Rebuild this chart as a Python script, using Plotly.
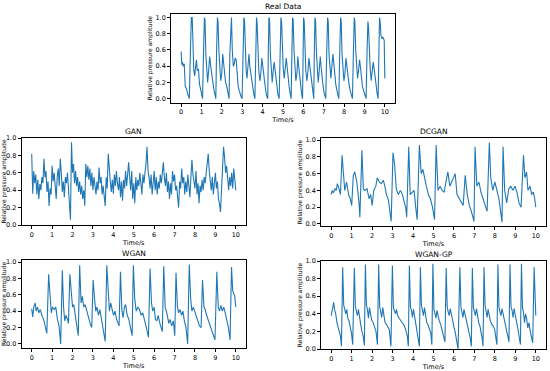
import plotly.graph_objects as go

# ---------------- data ----------------
real_t = [0.00, 0.03, 0.06, 0.10, 0.15, 0.20, 0.27, 0.33, 0.40, 0.45,
          0.50, 0.54, 0.58, 0.62, 0.66, 0.70, 0.75, 0.79, 0.85, 0.90, 0.95, 1.00, 1.05,
          1.10, 1.14, 1.17, 1.21, 1.25, 1.30, 1.35, 1.40, 1.45, 1.50, 1.55, 1.60, 1.66, 1.70,
          1.74, 1.78, 1.81, 1.85, 1.89, 1.94, 1.99, 2.04, 2.08, 2.13, 2.18, 2.24, 2.30, 2.35,
          2.39, 2.44, 2.47, 2.51, 2.56, 2.60, 2.65, 2.70, 2.75, 2.80, 2.85, 2.90, 2.95, 2.99,
          3.04, 3.08, 3.11, 3.15, 3.19, 3.23, 3.28, 3.33, 3.37, 3.42, 3.47, 3.52, 3.57, 3.62,
          3.66, 3.70, 3.73, 3.77, 3.81, 3.86, 3.91, 3.96, 4.00, 4.05, 4.10, 4.15, 4.20, 4.25,
          4.28, 4.31, 4.34, 4.38, 4.42, 4.47, 4.52, 4.57, 4.60, 4.65, 4.70, 4.75, 4.81,
          4.86, 4.90, 4.93, 4.97, 5.01, 5.06, 5.11, 5.16, 5.20, 5.25, 5.30, 5.36, 5.40,
          5.44, 5.47, 5.50, 5.54, 5.58, 5.63, 5.68, 5.73, 5.77, 5.82, 5.87, 5.92, 5.96,
          5.98, 6.01, 6.04, 6.08, 6.12, 6.17, 6.22, 6.27, 6.31, 6.36, 6.41, 6.46, 6.51,
          6.54, 6.57, 6.60, 6.64, 6.68, 6.73, 6.78, 6.83, 6.87, 6.92, 6.97, 7.03, 7.10,
          7.15, 7.19, 7.22, 7.26, 7.30, 7.35, 7.40, 7.45, 7.49, 7.54, 7.59, 7.65, 7.70, 7.74,
          7.79, 7.83, 7.86, 7.90, 7.94, 7.99, 8.04, 8.09, 8.13, 8.18, 8.24, 8.30, 8.36, 8.41,
          8.46, 8.50, 8.53, 8.57, 8.61, 8.66, 8.71, 8.76, 8.80, 8.85, 8.90, 8.96, 9.02, 9.08,
          9.13, 9.17, 9.20, 9.24, 9.28, 9.33, 9.38, 9.43, 9.47, 9.52, 9.57, 9.63, 9.67,
          9.70, 9.74, 9.77, 9.81, 9.86, 9.90, 9.94, 9.97, 10.0]
real_y = [0.58, 0.42, 0.45, 0.40, 0.43, 0.15, 0.12, 0.05, 0.00, 0.55,
          1.00, 1.00, 0.60, 0.35, 0.28, 0.40, 0.48, 0.35, 0.36, 0.18, 0.12, 0.05, 0.00,
          0.60, 1.00, 0.97, 0.55, 0.35, 0.20, 0.35, 0.52, 0.40, 0.30, 0.18, 0.12, 0.05, 0.00,
          0.60, 1.00, 0.95, 0.60, 0.38, 0.22, 0.30, 0.55, 0.45, 0.32, 0.20, 0.15, 0.08, 0.00,
          0.55, 0.95, 1.00, 0.60, 0.40, 0.42, 0.50, 0.48, 0.30, 0.15, 0.10, 0.05, 0.02, 0.00,
          0.60, 1.00, 0.96, 0.55, 0.35, 0.25, 0.38, 0.55, 0.40, 0.30, 0.20, 0.10, 0.05, 0.00,
          0.60, 1.00, 0.93, 0.58, 0.35, 0.22, 0.30, 0.50, 0.40, 0.28, 0.15, 0.10, 0.03, 0.00,
          0.60, 1.00, 0.98, 0.55, 0.30, 0.20, 0.35, 0.45, 0.38, 0.25, 0.12, 0.05, 0.00,
          0.60, 1.00, 0.95, 0.60, 0.38, 0.25, 0.35, 0.50, 0.40, 0.25, 0.15, 0.05, 0.00,
          0.60, 1.00, 0.97, 0.60, 0.35, 0.22, 0.30, 0.52, 0.40, 0.25, 0.15, 0.05, 0.00,
          0.60, 1.00, 0.96, 0.55, 0.35, 0.22, 0.32, 0.50, 0.42, 0.28, 0.15, 0.08, 0.00,
          0.60, 1.00, 0.96, 0.58, 0.32, 0.20, 0.35, 0.52, 0.40, 0.25, 0.15, 0.06, 0.00,
          0.60, 1.00, 0.95, 0.55, 0.35, 0.25, 0.40, 0.55, 0.45, 0.30, 0.18, 0.10, 0.03, 0.00,
          0.60, 1.00, 0.95, 0.55, 0.35, 0.22, 0.30, 0.50, 0.42, 0.28, 0.18, 0.10, 0.05, 0.00,
          0.60, 1.00, 0.95, 0.60, 0.38, 0.25, 0.35, 0.48, 0.40, 0.25, 0.15, 0.10, 0.05, 0.00,
          0.60, 0.95, 0.88, 0.55, 0.38, 0.22, 0.35, 0.45, 0.38, 0.25, 0.15, 0.05, 0.00,
          0.60, 1.00, 0.95, 0.78, 0.74, 0.76, 0.74, 0.72, 0.25]

# GAN output sampled every 0.05 s from 0 to 10 s
gan_t = [round(i * 0.05, 2) for i in range(201)]
gan_y = [0.82, 0.36, 0.62, 0.48, 0.58, 0.35, 0.52, 0.30, 0.47, 0.40,
         0.55, 0.48, 0.76, 0.55, 0.62, 0.38, 0.50, 0.22, 0.42, 0.35,
         0.68, 0.50, 0.60, 0.42, 0.30, 0.55, 0.65, 0.45, 0.76, 0.60,
         0.38, 0.50, 0.32, 0.55, 0.48, 0.60, 0.40, 0.28, 0.06, 0.95,
         0.60, 0.70, 0.48, 0.62, 0.45, 0.55, 0.38, 0.50, 0.35, 0.45,
         0.30, 0.40, 0.22, 0.70, 0.55, 0.68, 0.52, 0.65, 0.45, 0.60,
         0.40, 0.55, 0.42, 0.35, 0.50, 0.40, 0.66, 0.48, 0.55, 0.35,
         0.45, 0.30, 0.22, 0.55, 0.42, 0.82, 0.60, 0.50, 0.38, 0.52,
         0.36, 0.58, 0.45, 0.62, 0.48, 0.40, 0.55, 0.32, 0.50, 0.28,
         0.52, 0.42, 0.62, 0.45, 0.58, 0.72, 0.55, 0.40, 0.62, 0.30,
         0.48, 0.25, 0.55, 0.40, 0.52, 0.45, 0.60, 0.50, 0.35, 0.58,
         0.48, 0.60, 0.70, 0.90, 0.62, 0.55, 0.42, 0.58, 0.35, 0.48,
         0.62, 0.40, 0.55, 0.35, 0.50, 0.42, 0.58, 0.48, 0.62, 0.72,
         0.55, 0.45, 0.60, 0.38, 0.50, 0.30, 0.48, 0.35, 0.62, 0.50,
         0.58, 0.40, 0.45, 0.30, 0.20, 0.50, 0.42, 0.65, 0.48, 0.55,
         0.35, 0.50, 0.38, 0.58, 0.45, 0.32, 0.55, 0.75, 0.58, 0.50,
         0.42, 0.62, 0.35, 0.48, 0.25, 0.45, 0.38, 0.52, 0.40, 0.55,
         0.48, 0.60, 0.70, 0.82, 0.62, 0.50, 0.40, 0.55, 0.35, 0.48,
         0.60, 0.42, 0.50, 0.30, 0.25, 0.15, 0.40, 0.70, 0.90, 0.78,
         0.60, 0.68, 0.50, 0.40, 0.55, 0.45, 0.60, 0.42, 0.65, 0.50,
         0.40]

dcgan_t = [0.00, 0.05, 0.10, 0.18, 0.25, 0.30, 0.38, 0.45, 0.53, 0.60,
           0.66, 0.75, 0.85, 0.93, 1.00, 1.08, 1.15, 1.25, 1.32, 1.36,
           1.40, 1.50, 1.57, 1.65, 1.75, 1.85, 1.93, 2.00, 2.08, 2.18,
           2.25, 2.35, 2.45, 2.55, 2.62, 2.70, 2.80, 2.88, 2.93, 3.02,
           3.10, 3.18, 3.28, 3.38, 3.48, 3.58, 3.64, 3.69, 3.79, 3.86,
           3.95, 4.05, 4.13, 4.20, 4.31, 4.40, 4.48, 4.55, 4.65, 4.75,
           4.85, 4.95, 5.05, 5.13, 5.22, 5.32, 5.42, 5.52, 5.62, 5.70,
           5.80, 5.90, 6.00, 6.06, 6.15, 6.25, 6.35, 6.45, 6.55, 6.65,
           6.75, 6.85, 6.98, 7.03, 7.12, 7.22, 7.32, 7.42, 7.52, 7.62,
           7.73, 7.80, 7.90, 8.00, 8.10, 8.20, 8.28, 8.35, 8.40, 8.48,
           8.58, 8.68, 8.78, 8.88, 8.98, 9.08, 9.18, 9.28, 9.40, 9.47,
           9.55, 9.62, 9.72, 9.80, 9.88, 9.95, 10.0]
dcgan_y = [0.35, 0.40, 0.37, 0.42, 0.40, 0.48, 0.42, 0.35, 0.82, 0.55,
           0.40, 0.50, 0.35, 0.30, 0.22, 0.58, 0.62, 0.50, 0.35, 0.25,
           0.08, 0.88, 0.42, 0.40, 0.42, 0.30, 0.35, 0.22, 0.40, 0.45,
           0.55, 0.50, 0.48, 0.52, 0.45, 0.35, 0.28, 0.15, 0.03, 0.85,
           0.70, 0.42, 0.35, 0.40, 0.35, 0.25, 0.20, 0.08, 0.92, 0.35,
           0.38, 0.40, 0.20, 0.05, 0.94, 0.60, 0.65, 0.55, 0.45, 0.35,
           0.30, 0.20, 0.05, 0.94, 0.40, 0.45, 0.40, 0.38, 0.50, 0.62,
           0.45, 0.50, 0.55, 0.60, 0.35, 0.30, 0.25, 0.22, 0.58, 0.35,
           0.22, 0.15, 0.03, 0.92, 0.45, 0.50, 0.38, 0.30, 0.25, 0.15,
           0.97, 0.55, 0.40, 0.50, 0.40, 0.30, 0.15, 0.02, 0.92, 0.40,
           0.25, 0.42, 0.45, 0.40, 0.45, 0.38, 0.25, 0.20, 0.82, 0.55,
           0.62, 0.40, 0.45, 0.35, 0.38, 0.30, 0.20]

wgan_t = [0.00, 0.05, 0.10, 0.17, 0.22, 0.28, 0.35, 0.42, 0.50, 0.58, 0.66, 0.74, 0.83,
          0.90, 0.96, 1.02, 1.10, 1.18, 1.26, 1.34, 1.42, 1.50,
          1.56, 1.62, 1.68, 1.75, 1.80, 1.87,
          1.94, 2.00, 2.06, 2.13, 2.20, 2.28, 2.35,
          2.42, 2.48, 2.55, 2.62, 2.70, 2.78, 2.86, 2.94, 3.01,
          3.08, 3.14, 3.20, 3.27, 3.34, 3.42, 3.50, 3.60, 3.68,
          3.75, 3.81, 3.87, 3.94, 4.01, 4.08, 4.16, 4.28, 4.35,
          4.42, 4.48, 4.54, 4.60, 4.68, 4.76, 4.84, 4.92, 4.98,
          5.05, 5.12, 5.20, 5.28, 5.36, 5.44, 5.52, 5.62, 5.72, 5.80,
          5.87, 5.93, 6.00, 6.06, 6.13, 6.20, 6.28, 6.40, 6.47,
          6.54, 6.60, 6.66, 6.72, 6.78, 6.86, 6.94, 7.01, 7.07,
          7.14, 7.20, 7.27, 7.34, 7.41, 7.48, 7.56, 7.64, 7.72,
          7.79, 7.85, 7.92, 7.99, 8.06, 8.14, 8.22, 8.30, 8.37,
          8.44, 8.50, 8.57, 8.64, 8.71, 8.78, 8.86, 8.98, 9.07,
          9.14, 9.20, 9.27, 9.34, 9.41, 9.48, 9.56, 9.64, 9.72, 9.79,
          9.85, 9.90, 9.95, 10.0]
wgan_y = [0.43, 0.33, 0.45, 0.50, 0.40, 0.45, 0.38, 0.42, 0.35, 0.30, 0.22, 0.13, 0.85,
          0.55, 0.38, 0.45, 0.42, 0.45, 0.30, 0.22, 0.00, 0.90,
          0.45, 0.28, 0.35, 0.30, 0.25, 0.85,
          0.55, 0.45, 0.48, 0.35, 0.20, 0.10, 0.96,
          0.50, 0.58, 0.45, 0.48, 0.40, 0.35, 0.25, 0.20, 0.78,
          0.55, 0.40, 0.45, 0.35, 0.42, 0.30, 0.20, 0.03, 0.96,
          0.55, 0.40, 0.50, 0.42, 0.35, 0.40, 0.30, 0.22, 0.88,
          0.40, 0.32, 0.45, 0.48, 0.35, 0.30, 0.20, 0.10, 0.96,
          0.55, 0.40, 0.45, 0.42, 0.35, 0.38, 0.28, 0.20, 0.08, 0.92,
          0.50, 0.40, 0.45, 0.30, 0.28, 0.35, 0.25, 0.15, 0.95,
          0.45, 0.40, 0.30, 0.25, 0.30, 0.22, 0.28, 0.10, 0.87,
          0.45, 0.38, 0.42, 0.35, 0.40, 0.28, 0.20, 0.00, 0.97,
          0.55, 0.40, 0.45, 0.40, 0.35, 0.28, 0.22, 0.20, 0.78,
          0.45, 0.42, 0.35, 0.30, 0.25, 0.20, 0.15, 0.05, 0.88,
          0.45, 0.40, 0.47, 0.40, 0.45, 0.38, 0.30, 0.20, 0.05, 0.94,
          0.65, 0.60, 0.58, 0.45]

wgp_t = [0.00, 0.04, 0.08, 0.12, 0.16, 0.22, 0.28, 0.34, 0.40, 0.45, 0.50, 0.56,
         0.61, 0.66, 0.71, 0.76, 0.81, 0.87, 0.93, 0.99, 1.05, 1.13,
         1.18, 1.23, 1.28, 1.33, 1.38, 1.44, 1.50, 1.56, 1.62, 1.67,
         1.72, 1.77, 1.82, 1.87, 1.92, 1.98, 2.05, 2.12, 2.19, 2.26, 2.32,
         2.37, 2.42, 2.47, 2.52, 2.57, 2.63, 2.70, 2.77, 2.84, 2.92, 2.99,
         3.04, 3.09, 3.14, 3.19, 3.25, 3.32, 3.40, 3.48, 3.56, 3.64, 3.72, 3.77, 3.82,
         3.87, 3.92, 3.97, 4.02, 4.07, 4.13, 4.19, 4.25, 4.31, 4.36,
         4.41, 4.46, 4.51, 4.56, 4.61, 4.67, 4.74, 4.81, 4.87, 4.92, 4.97,
         5.02, 5.07, 5.12, 5.17, 5.22, 5.28, 5.35, 5.42, 5.49, 5.56, 5.62,
         5.67, 5.72, 5.77, 5.82, 5.87, 5.93, 6.00, 6.07, 6.14, 6.20, 6.29,
         6.34, 6.39, 6.44, 6.49, 6.54, 6.60, 6.67, 6.74, 6.80, 6.85, 6.90,
         6.95, 7.00, 7.05, 7.10, 7.15, 7.21, 7.27, 7.33, 7.38, 7.42, 7.47,
         7.52, 7.57, 7.62, 7.67, 7.72, 7.78, 7.85, 7.92, 7.99, 8.05, 8.10, 8.15,
         8.20, 8.25, 8.30, 8.35, 8.40, 8.46, 8.52, 8.58, 8.64, 8.69, 8.74,
         8.79, 8.84, 8.89, 8.94, 8.99, 9.05, 9.11, 9.17, 9.22, 9.25, 9.30,
         9.35, 9.40, 9.45, 9.50, 9.55, 9.61, 9.67, 9.73, 9.79, 9.85, 9.92,
         9.96, 10.0]
wgp_y = [0.38, 0.42, 0.48, 0.53, 0.45, 0.40, 0.30, 0.25, 0.20, 0.15, 0.03, 0.93,
         0.50, 0.45, 0.40, 0.45, 0.35, 0.32, 0.25, 0.18, 0.05, 0.92,
         0.48, 0.42, 0.38, 0.45, 0.35, 0.28, 0.20, 0.15, 0.04, 0.96,
         0.50, 0.45, 0.35, 0.47, 0.40, 0.33, 0.30, 0.25, 0.20, 0.05, 0.96,
         0.48, 0.42, 0.36, 0.47, 0.38, 0.30, 0.28, 0.25, 0.22, 0.03, 0.95,
         0.47, 0.44, 0.40, 0.45, 0.38, 0.35, 0.32, 0.30, 0.27, 0.22, 0.15, 0.03, 0.95,
         0.48, 0.44, 0.36, 0.45, 0.38, 0.30, 0.22, 0.15, 0.03, 0.93,
         0.50, 0.44, 0.38, 0.47, 0.40, 0.30, 0.27, 0.22, 0.18, 0.05, 0.97,
         0.45, 0.40, 0.35, 0.44, 0.38, 0.32, 0.28, 0.22, 0.15, 0.08, 0.92,
         0.48, 0.42, 0.38, 0.46, 0.40, 0.30, 0.25, 0.18, 0.10, 0.00, 0.93,
         0.48, 0.42, 0.36, 0.45, 0.40, 0.32, 0.28, 0.20, 0.12, 0.03, 0.92,
         0.47, 0.40, 0.38, 0.46, 0.36, 0.30, 0.26, 0.20, 0.12, 0.03, 0.93,
         0.50, 0.44, 0.36, 0.45, 0.38, 0.32, 0.28, 0.26, 0.22, 0.15, 0.05, 0.96,
         0.48, 0.42, 0.38, 0.46, 0.40, 0.30, 0.25, 0.20, 0.14, 0.08, 0.96,
         0.48, 0.44, 0.36, 0.46, 0.38, 0.32, 0.25, 0.18, 0.10, 0.05, 0.97,
         0.46, 0.42, 0.30, 0.40, 0.35, 0.24, 0.30, 0.20, 0.15, 0.07, 0.93,
         0.60, 0.38]

titles = ["Real Data", "GAN", "DCGAN", "WGAN", "WGAN-GP"]
x_ticks = [0, 1, 2, 3, 4, 5, 6, 7, 8, 9, 10]
y_ticks = [0.0, 0.2, 0.4, 0.6, 0.8, 1.0]
x_label = "Time/s"
y_label = "Relative pressure amplitude"

series = [(real_t, real_y), (gan_t, gan_y), (dcgan_t, dcgan_y),
          (wgan_t, wgan_y), (wgp_t, wgp_y)]
for t, y in series:
    assert len(t) == len(y), (len(t), len(y))

# ---------------- layout ----------------
W, H = 550, 371
# plot boxes in pixels: (left, right, top, bottom)
boxes = [(171, 395, 13.5, 102.7),
         (21.5, 246, 138, 225),
         (321, 546, 138, 226),
         (21.5, 246, 260, 348),
         (321, 546, 261, 349)]
y_ranges = [[-0.05, 1.05], [0.0, 1.0], [-0.025, 1.025], [-0.05, 1.025], [0.0, 1.0]]

LINE = "#1f77b4"
FONT = "DejaVu Sans"

fig = go.Figure()
layout = dict(
    width=W, height=H,
    margin=dict(l=0, r=0, t=0, b=0),
    paper_bgcolor="white", plot_bgcolor="white",
    showlegend=False,
    font=dict(family=FONT, size=6.5, color="black"),
)
annotations = []
for i, ((t, y), box, yr, title) in enumerate(zip(series, boxes, y_ranges, titles)):
    k = "" if i == 0 else str(i + 1)
    fig.add_trace(go.Scatter(x=t, y=y, mode="lines",
                             line=dict(color=LINE, width=1.1),
                             xaxis="x" + k, yaxis="y" + k))
    l, r, tp, bt = box
    common = dict(showline=True, mirror=True, linecolor="black", linewidth=0.8,
                  ticks="outside", ticklen=3, tickwidth=0.8, tickcolor="black",
                  showgrid=False, zeroline=False, automargin=False,
                  tickfont=dict(family=FONT, size=6.5, color="black"))
    layout["xaxis" + k] = dict(
        common, domain=[l / W, r / W], anchor="y" + k, range=[-0.5, 10.5],
        tickmode="array", tickvals=x_ticks, ticktext=[str(v) for v in x_ticks],
        title=dict(text=x_label, font=dict(family=FONT, size=6.5, color="black"), standoff=1))
    layout["yaxis" + k] = dict(
        common, domain=[1 - bt / H, 1 - tp / H], anchor="x" + k, range=yr,
        tickmode="array", tickvals=y_ticks, ticktext=[f"{v:.1f}" for v in y_ticks],
        title=dict(text=y_label, font=dict(family=FONT, size=6, color="black"), standoff=2))
    annotations.append(dict(
        text=title, x=(l + r) / 2 / W, y=1 - (tp - 6.5) / H, xref="paper", yref="paper",
        xanchor="center", yanchor="middle", showarrow=False,
        font=dict(family=FONT, size=7.5, color="black")))

layout["annotations"] = annotations
fig.update_layout(**layout)
fig.write_html("out.html",
               config={"displayModeBar": False},
               post_script="document.body.style.margin='0';document.body.style.padding='0';")
